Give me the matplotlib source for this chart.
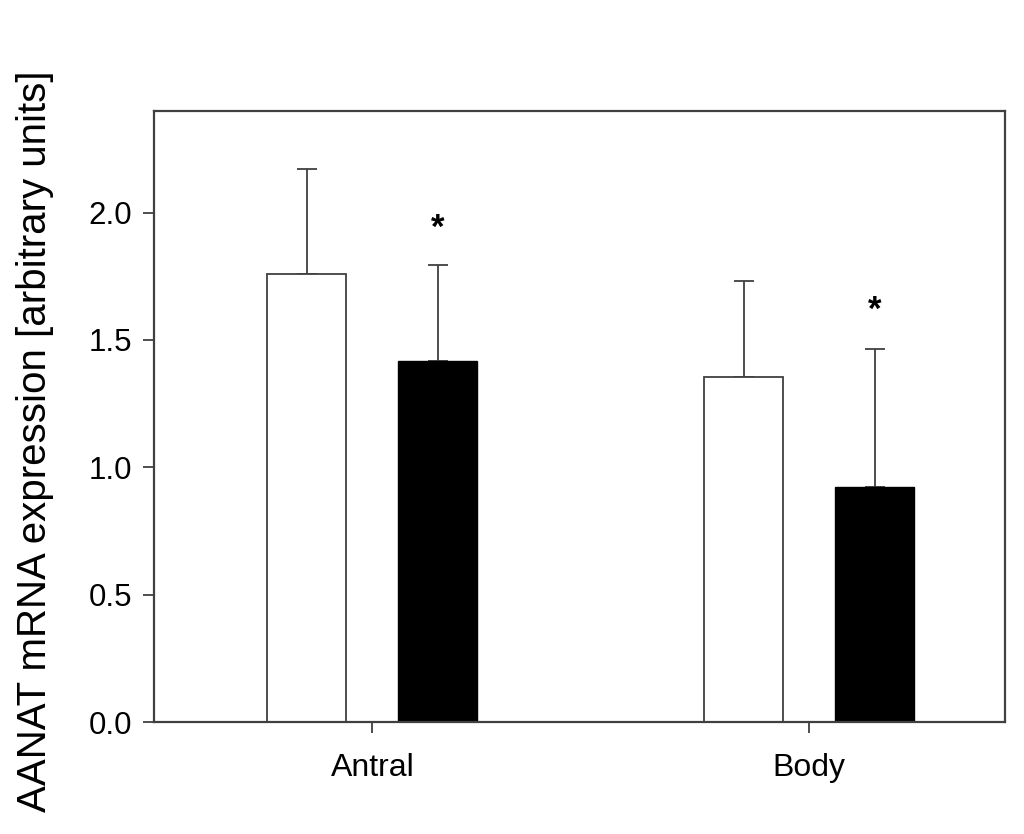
import numpy as np
import matplotlib.pyplot as plt

plt.rcParams['font.family'] = ['Liberation Sans', 'DejaVu Sans']

# 数据
groups = ['Antral', 'Body']
white_means = [1.76, 1.353]
white_err = [0.41, 0.38]
black_means = [1.419, 0.924]
black_err = [0.375, 0.542]
star_y = [1.94, 1.615]

line_col = '#404040'
x = np.arange(1, len(groups) + 1)
w = 0.181
off = 0.15

fig = plt.figure(figsize=(10.24, 8.34), dpi=100)
ax = fig.add_axes([154 / 1024, 112 / 834, 851 / 1024, 611.3 / 834])

ax.bar(x - off, white_means, w, color='white', edgecolor=line_col, linewidth=1.3, zorder=2)
ax.bar(x + off, black_means, w, color='black', edgecolor='black', linewidth=1.0, zorder=2)

zeros = np.zeros(len(groups))
ax.errorbar(x - off, white_means, yerr=[zeros, white_err], fmt='none',
            ecolor=line_col, elinewidth=1.3, capsize=7, capthick=1.3, zorder=1)
ax.errorbar(x + off, black_means, yerr=[zeros, black_err], fmt='none',
            ecolor=line_col, elinewidth=1.3, capsize=7, capthick=1.3, zorder=1)

for xi, sy in zip(x + off, star_y):
    ax.text(xi, sy, '*', ha='center', va='center', fontsize=25, fontweight='bold')

ax.set_xlim(0.5, 2.448)
ax.set_ylim(0, 2.40)
ax.set_xticks(x)
ax.set_xticklabels(groups)
ax.set_yticks([0.0, 0.5, 1.0, 1.5, 2.0])
ax.set_yticklabels(['0.0', '0.5', '1.0', '1.5', '2.0'])
ax.tick_params(axis='both', direction='out', length=8, width=1.3, color=line_col,
               labelsize=22.5, pad=8)
ax.tick_params(axis='x', pad=14, labelsize=23)
for s in ax.spines.values():
    s.set_color(line_col)
    s.set_linewidth(1.6)

ax.set_ylabel('AANAT mRNA expression [arbitrary units]', fontsize=29)
ax.yaxis.set_label_coords(-0.118, 0.46)

plt.savefig('out.png', dpi=100)
